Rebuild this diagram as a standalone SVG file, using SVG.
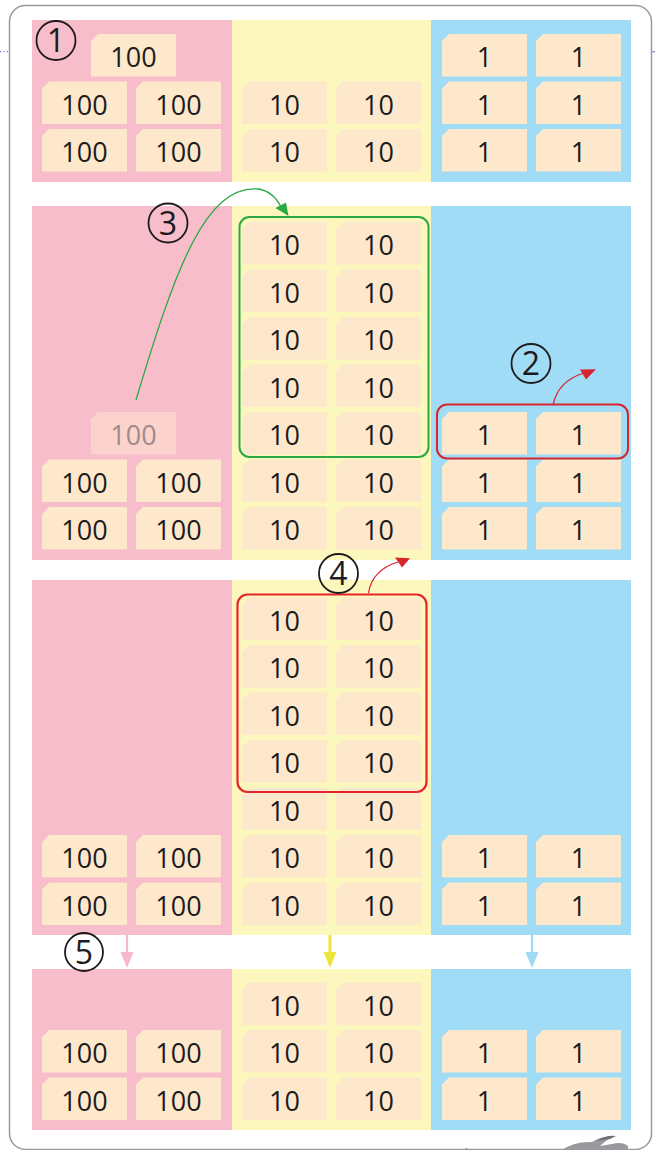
<svg xmlns="http://www.w3.org/2000/svg" xmlns:xlink="http://www.w3.org/1999/xlink" width="655" height="1150" viewBox="0 0 655 1150">
<style>
.pk{fill:#f7bdcb}.yl{fill:#fcf7bd}.bl{fill:#a0dcf6}
.cd{fill:#fde8cc}.fd{fill:#fcd2cc}
.t{font-family:"Open Sans","Liberation Sans",sans-serif;font-size:27px;fill:#1e1b1c;text-anchor:middle}
.tf{font-family:"Open Sans","Liberation Sans",sans-serif;font-size:27px;fill:#a08a8a;text-anchor:middle}
.cn{font-family:"Open Sans","Liberation Sans",sans-serif;font-size:32px;fill:#1e1b1c;text-anchor:middle}
.cc{fill:none;stroke:#1e1b1c;stroke-width:1.8}
</style>
<defs>
<path id="card" d="M7,0H85V42.5H0V7Z"/>
</defs>
<rect x="0" y="0" width="655" height="1150" fill="#ffffff"/>
<rect x="9.5" y="5.5" width="642" height="1144" rx="16" fill="#ffffff" stroke="#9a9a9a" stroke-width="1.5"/>
<line x1="0" y1="51.7" x2="9" y2="51.7" stroke="#7b6fbf" stroke-width="1.2" stroke-dasharray="1.2,2.2"/>
<line x1="652.5" y1="51.7" x2="655" y2="51.7" stroke="#7b6fbf" stroke-width="1.2"/>

<g id="panels">
<rect class="pk" x="32" y="20" width="200" height="162"/>
<rect class="yl" x="232" y="20" width="199" height="162"/>
<rect class="bl" x="431" y="20" width="200" height="162"/>
<rect class="pk" x="32" y="206" width="200" height="354"/>
<rect class="yl" x="232" y="206" width="199" height="354"/>
<rect class="bl" x="431" y="206" width="200" height="354"/>
<rect class="pk" x="32" y="580" width="200" height="355"/>
<rect class="yl" x="232" y="580" width="199" height="355"/>
<rect class="bl" x="431" y="580" width="200" height="355"/>
<rect class="pk" x="32" y="969" width="200" height="161"/>
<rect class="yl" x="232" y="969" width="199" height="161"/>
<rect class="bl" x="431" y="969" width="200" height="161"/>
</g>

<g id="step1">
<use href="#card" class="cd" x="91" y="34"/><text class="t" x="133.5" y="67">100</text>
<use href="#card" class="cd" x="42" y="81.5"/><text class="t" x="84.5" y="114.5">100</text>
<use href="#card" class="cd" x="136" y="81.5"/><text class="t" x="178.5" y="114.5">100</text>
<use href="#card" class="cd" x="42" y="129"/><text class="t" x="84.5" y="162">100</text>
<use href="#card" class="cd" x="136" y="129"/><text class="t" x="178.5" y="162">100</text>
<use href="#card" class="cd" x="242" y="81.5"/><text class="t" x="284.5" y="114.5">10</text>
<use href="#card" class="cd" x="336" y="81.5"/><text class="t" x="378.5" y="114.5">10</text>
<use href="#card" class="cd" x="242" y="129"/><text class="t" x="284.5" y="162">10</text>
<use href="#card" class="cd" x="336" y="129"/><text class="t" x="378.5" y="162">10</text>
<use href="#card" class="cd" x="442" y="34"/><text class="t" x="484.5" y="67">1</text>
<use href="#card" class="cd" x="536" y="34"/><text class="t" x="578.5" y="67">1</text>
<use href="#card" class="cd" x="442" y="81.5"/><text class="t" x="484.5" y="114.5">1</text>
<use href="#card" class="cd" x="536" y="81.5"/><text class="t" x="578.5" y="114.5">1</text>
<use href="#card" class="cd" x="442" y="129"/><text class="t" x="484.5" y="162">1</text>
<use href="#card" class="cd" x="536" y="129"/><text class="t" x="578.5" y="162">1</text>
</g>

<g id="step2">
<use href="#card" class="fd" x="91" y="412"/><text class="tf" x="133.5" y="445">100</text>
<use href="#card" class="cd" x="42" y="459.5"/><text class="t" x="84.5" y="492.5">100</text>
<use href="#card" class="cd" x="136" y="459.5"/><text class="t" x="178.5" y="492.5">100</text>
<use href="#card" class="cd" x="42" y="507"/><text class="t" x="84.5" y="540">100</text>
<use href="#card" class="cd" x="136" y="507"/><text class="t" x="178.5" y="540">100</text>
<use href="#card" class="cd" x="242" y="222"/><text class="t" x="284.5" y="255">10</text>
<use href="#card" class="cd" x="336" y="222"/><text class="t" x="378.5" y="255">10</text>
<use href="#card" class="cd" x="242" y="269.5"/><text class="t" x="284.5" y="302.5">10</text>
<use href="#card" class="cd" x="336" y="269.5"/><text class="t" x="378.5" y="302.5">10</text>
<use href="#card" class="cd" x="242" y="317"/><text class="t" x="284.5" y="350">10</text>
<use href="#card" class="cd" x="336" y="317"/><text class="t" x="378.5" y="350">10</text>
<use href="#card" class="cd" x="242" y="364.5"/><text class="t" x="284.5" y="397.5">10</text>
<use href="#card" class="cd" x="336" y="364.5"/><text class="t" x="378.5" y="397.5">10</text>
<use href="#card" class="cd" x="242" y="412"/><text class="t" x="284.5" y="445">10</text>
<use href="#card" class="cd" x="336" y="412"/><text class="t" x="378.5" y="445">10</text>
<use href="#card" class="cd" x="242" y="459.5"/><text class="t" x="284.5" y="492.5">10</text>
<use href="#card" class="cd" x="336" y="459.5"/><text class="t" x="378.5" y="492.5">10</text>
<use href="#card" class="cd" x="242" y="507"/><text class="t" x="284.5" y="540">10</text>
<use href="#card" class="cd" x="336" y="507"/><text class="t" x="378.5" y="540">10</text>
<use href="#card" class="cd" x="442" y="412"/><text class="t" x="484.5" y="445">1</text>
<use href="#card" class="cd" x="536" y="412"/><text class="t" x="578.5" y="445">1</text>
<use href="#card" class="cd" x="442" y="459.5"/><text class="t" x="484.5" y="492.5">1</text>
<use href="#card" class="cd" x="536" y="459.5"/><text class="t" x="578.5" y="492.5">1</text>
<use href="#card" class="cd" x="442" y="507"/><text class="t" x="484.5" y="540">1</text>
<use href="#card" class="cd" x="536" y="507"/><text class="t" x="578.5" y="540">1</text>
</g>

<g id="step3">
<use href="#card" class="cd" x="242" y="597.5"/><text class="t" x="284.5" y="630.5">10</text>
<use href="#card" class="cd" x="336" y="597.5"/><text class="t" x="378.5" y="630.5">10</text>
<use href="#card" class="cd" x="242" y="645"/><text class="t" x="284.5" y="678">10</text>
<use href="#card" class="cd" x="336" y="645"/><text class="t" x="378.5" y="678">10</text>
<use href="#card" class="cd" x="242" y="692.5"/><text class="t" x="284.5" y="725.5">10</text>
<use href="#card" class="cd" x="336" y="692.5"/><text class="t" x="378.5" y="725.5">10</text>
<use href="#card" class="cd" x="242" y="740"/><text class="t" x="284.5" y="773">10</text>
<use href="#card" class="cd" x="336" y="740"/><text class="t" x="378.5" y="773">10</text>
<use href="#card" class="cd" x="242" y="787.5"/><text class="t" x="284.5" y="820.5">10</text>
<use href="#card" class="cd" x="336" y="787.5"/><text class="t" x="378.5" y="820.5">10</text>
<use href="#card" class="cd" x="242" y="835"/><text class="t" x="284.5" y="868">10</text>
<use href="#card" class="cd" x="336" y="835"/><text class="t" x="378.5" y="868">10</text>
<use href="#card" class="cd" x="242" y="882.5"/><text class="t" x="284.5" y="915.5">10</text>
<use href="#card" class="cd" x="336" y="882.5"/><text class="t" x="378.5" y="915.5">10</text>
<use href="#card" class="cd" x="42" y="835"/><text class="t" x="84.5" y="868">100</text>
<use href="#card" class="cd" x="136" y="835"/><text class="t" x="178.5" y="868">100</text>
<use href="#card" class="cd" x="42" y="882.5"/><text class="t" x="84.5" y="915.5">100</text>
<use href="#card" class="cd" x="136" y="882.5"/><text class="t" x="178.5" y="915.5">100</text>
<use href="#card" class="cd" x="442" y="835"/><text class="t" x="484.5" y="868">1</text>
<use href="#card" class="cd" x="536" y="835"/><text class="t" x="578.5" y="868">1</text>
<use href="#card" class="cd" x="442" y="882.5"/><text class="t" x="484.5" y="915.5">1</text>
<use href="#card" class="cd" x="536" y="882.5"/><text class="t" x="578.5" y="915.5">1</text>
</g>

<g id="step4">
<use href="#card" class="cd" x="242" y="982.5"/><text class="t" x="284.5" y="1015.5">10</text>
<use href="#card" class="cd" x="336" y="982.5"/><text class="t" x="378.5" y="1015.5">10</text>
<use href="#card" class="cd" x="242" y="1030"/><text class="t" x="284.5" y="1063">10</text>
<use href="#card" class="cd" x="336" y="1030"/><text class="t" x="378.5" y="1063">10</text>
<use href="#card" class="cd" x="242" y="1077.5"/><text class="t" x="284.5" y="1110.5">10</text>
<use href="#card" class="cd" x="336" y="1077.5"/><text class="t" x="378.5" y="1110.5">10</text>
<use href="#card" class="cd" x="42" y="1030"/><text class="t" x="84.5" y="1063">100</text>
<use href="#card" class="cd" x="136" y="1030"/><text class="t" x="178.5" y="1063">100</text>
<use href="#card" class="cd" x="42" y="1077.5"/><text class="t" x="84.5" y="1110.5">100</text>
<use href="#card" class="cd" x="136" y="1077.5"/><text class="t" x="178.5" y="1110.5">100</text>
<use href="#card" class="cd" x="442" y="1030"/><text class="t" x="484.5" y="1063">1</text>
<use href="#card" class="cd" x="536" y="1030"/><text class="t" x="578.5" y="1063">1</text>
<use href="#card" class="cd" x="442" y="1077.5"/><text class="t" x="484.5" y="1110.5">1</text>
<use href="#card" class="cd" x="536" y="1077.5"/><text class="t" x="578.5" y="1110.5">1</text>
</g>

<g id="boxes">
<rect x="239.5" y="217" width="189" height="240" rx="10" fill="none" stroke="#2aa845" stroke-width="2"/>
<rect x="437" y="404.5" width="191" height="54" rx="10" fill="none" stroke="#d7262e" stroke-width="2"/>
<rect x="237.5" y="594.5" width="189" height="197.5" rx="10" fill="none" stroke="#e5242b" stroke-width="2.2"/>
</g>

<g id="connectors">
<path d="M136,400 C175,270 205,185 258,189 Q273,191 281,207" fill="none" stroke="#2aa845" stroke-width="1.3"/>
<polygon points="288.5,216 275.5,208 286,202.5" fill="#2aa845"/>
<path d="M553,405 Q558,381 584,373" fill="none" stroke="#d7262e" stroke-width="1.3"/>
<polygon points="596,369.3 580,369.5 586,379.5" fill="#d7262e"/>
<path d="M368.5,593 Q372,570 398,562" fill="none" stroke="#d7262e" stroke-width="1.3"/>
<polygon points="410,558.3 395,557.5 402,567.5" fill="#d7262e"/>
<line x1="127" y1="935" x2="127" y2="953" stroke="#f7b9c9" stroke-width="2.2"/>
<polygon points="120.5,952 133.5,952 127,968" fill="#f7b9c9"/>
<line x1="330" y1="935" x2="330" y2="953" stroke="#ede63a" stroke-width="3"/>
<polygon points="323.5,952 336.5,952 330,968" fill="#ede63a"/>
<line x1="532" y1="935" x2="532" y2="953" stroke="#9fd9f3" stroke-width="2.2"/>
<polygon points="525.5,952 538.5,952 532,968" fill="#9fd9f3"/>
</g>

<g id="labels">
<circle class="cc" cx="56" cy="40.5" r="19.5"/><text class="cn" x="56" y="52">1</text>
<circle class="cc" cx="531" cy="363.5" r="19.5"/><text class="cn" x="531" y="375">2</text>
<circle class="cc" cx="168" cy="223" r="19.5"/><text class="cn" x="168" y="234.5">3</text>
<circle class="cc" cx="338.5" cy="573.5" r="19.5"/><text class="cn" x="338.5" y="585">4</text>
<circle class="cc" cx="84" cy="952" r="19"/><text class="cn" x="84" y="963.5">5</text>
</g>

<g id="decoration">
<circle cx="466.5" cy="1149" r="1" fill="#888"/>
<path d="M562,1150 Q575,1141 592,1142 Q602,1136 612,1137 Q605,1141 600,1146 L612,1144 Q622,1141 628,1146 L628,1150 Z" fill="#9a9a9e"/>
<path d="M596,1141 Q606,1135 616,1136 L610,1139 Z" fill="#6e6e74"/>
</g>
</svg>
